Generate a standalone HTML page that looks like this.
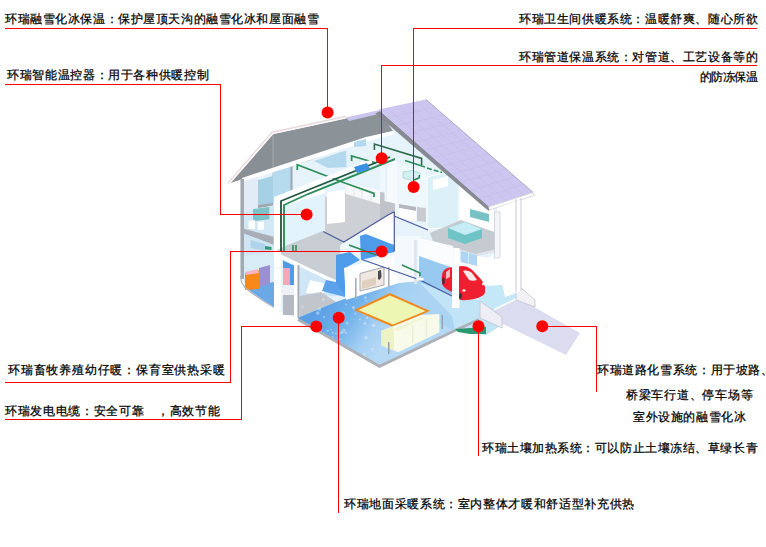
<!DOCTYPE html>
<html><head><meta charset="utf-8"><style>
html,body{margin:0;padding:0;background:#fff;}
body{width:766px;height:547px;position:relative;overflow:hidden;font-family:"Liberation Sans",sans-serif;}
.t{position:absolute;font-size:12px;line-height:13px;letter-spacing:0.6px;-webkit-text-stroke:0.25px #000;color:#000;white-space:nowrap;}
svg{position:absolute;left:0;top:0;z-index:1;}
</style></head><body>
<svg width="766" height="547" viewBox="0 0 766 547">
<g id="house"><defs>
<linearGradient id="floorg" x1="315" y1="312" x2="378" y2="356" gradientUnits="userSpaceOnUse">
<stop offset="0" stop-color="#5a9fe6"/><stop offset="0.4" stop-color="#72b2eb"/><stop offset="0.75" stop-color="#a6d0f3"/><stop offset="1" stop-color="#b6daf6"/>
</linearGradient>
</defs>
<!-- ===== base silhouette ===== -->
<polygon fill="#e6f3fa" points="230,182 273,134 426,100 533,193 521,200 521,291 535,300 535,307 503,324 486,335 455,331 382,366 298,319 281,312 274,307 263,300 250,290 244,282 240,270 240,180"/>
<!-- ===== gray roof underside (left gable + attic) ===== -->
<polygon fill="#8c9398" points="230,183 273,134 379,111 393,131 366,138 308,161 274,169 242,179"/>
<polygon fill="#899095" points="230,183 273,134 273,169 242,179"/>
<line x1="273" y1="134" x2="273" y2="200" stroke="#aab0b6" stroke-width="0.8"/>
<!-- lavender ridge strip -->
<polygon fill="#cbc4ee" points="346,117.5 380,110 381,113.5 349,121"/>
<!-- roof edge highlight -->
<polyline fill="none" stroke="#e8d6d8" stroke-width="2.6" points="228.5,183.5 272.5,132.6 346,117"/>
<polyline fill="none" stroke="#fbf8f8" stroke-width="1.6" points="229.3,183.6 272.8,133.4 346,117.8"/>
<!-- wall top white band -->
<polygon fill="#ffffff" points="242,178 366,137 393,131 395,134 368,141 243,182"/>
<!-- ===== left exterior wall ===== -->
<rect x="240.5" y="179" width="3.5" height="100" fill="#a4a9b0"/>
<polygon fill="#e2ecf6" points="244,181 258,177 258,270 244,272"/>
<polygon fill="#a6d0e4" points="258,180 273,176 273,204 258,206"/>
<polygon fill="#b6dbef" points="273,172 291,167 291,201 273,204"/>
<polygon fill="#a0a6ad" points="290.5,167 292.5,166 292.5,201 290.5,202"/>
<polygon fill="#a0a6ad" points="258,205 273,203 273,206 258,208"/>
<!-- teal headboard left room -->
<!-- left room 2nd floor slab -->
<polygon fill="#d2e8f4" points="244,212 274,205 274,237 244,229"/>
<polygon fill="#7cc2c6" points="253,209 269.3,207 269.3,219.3 253,221"/>
<polygon fill="#a9aeb6" points="243,228.6 273.7,236.8 273.7,245 243,233.5"/>
<polygon fill="#cfe5f3" points="244,233.5 273.7,245 273.7,265 244,265"/>
<polygon fill="#b0d4ec" points="250.7,240 265,244 265,251 250.7,248"/>
<polygon fill="#2f9a78" points="265,246 271.5,247 271.5,250 265,249.5"/>
<polygon fill="#ffffff" points="248.5,221 255,220 255,229 248.5,229"/>
<polygon fill="#ffffff" points="257.8,222 263.8,221.5 263.8,229.7 257.8,229.7"/>
<!-- ===== back room window / walls (study) ===== -->
<polygon fill="#b4d8ee" points="314,161 346,150.5 346.5,167 328,168"/>
<polygon fill="#b4d8ee" points="354,142 366,139 366,146 354,147"/>
<!-- kitchen counter & gray floor middle -->
<polygon fill="#cdd1d6" points="325,197 346,193 380,200 388,204 392,213 343.8,242 323.2,231.5 325,228"/>
<polygon fill="#f7f8f9" points="345,183 372,188 383,192 383,205 346,194"/>
<g stroke="#d6d9dd" stroke-width="0.6"><line x1="354" y1="186" x2="354" y2="197"/><line x1="362" y1="188" x2="362" y2="200"/><line x1="371" y1="190" x2="371" y2="202"/></g>
<polygon fill="#ffffff" points="327,192 345,190 345,222 327,224"/>
<!-- bathroom area -->
<polygon fill="#eef8fc" points="380,160 426,170 426,222 395,217 394,193 380,191"/>
<polygon fill="#c0c4ca" points="380,192 395,194 395,217 380,219"/>
<polygon fill="#b4b8be" points="399,204 416,207 416,211 399,208"/>
<polygon fill="#ffffff" points="399,208 416,211 416,221 399,218"/>
<polygon fill="#c8ccd2" points="417,207 426,208 426,222 417,221"/>
<polygon fill="#f6fafd" points="384.5,158 397,161 397,204 384.5,201"/>
<line x1="386" y1="160" x2="386" y2="200" stroke="#d8e4ec" stroke-width="0.8"/>
<path fill="#d4eef2" stroke="#a8d4d8" stroke-width="0.8" d="M403,172 L412,170.5 L420,173 L420,178 L412,180.5 L403,178Z"/>
<path fill="none" stroke="#2e7a52" stroke-width="1.4" d="M414,180 L419,178 L419.5,175"/>
<!-- bathroom door panel -->
<polygon fill="#dcf0f8" stroke="#ffffff" stroke-width="1" points="427,177 456,170 459,172 459,227 427,229"/>
<polygon fill="#ffffff" points="433,180 448,176 448,186 433,190"/>
<!-- ===== right bedroom ===== -->
<polygon fill="#ffffff" points="459,180 489,208 494,209 494,235 460,222"/>
<polygon fill="#c6cbd2" points="430,233 461,220 497,233 497,251 477,256 433,241"/>
<polyline fill="none" stroke="#e2e6ec" stroke-width="1.8" points="433,242 476,255 497,250"/>
<polygon fill="#6fc4c6" points="448,228 465,222 482,229 482,238 465,244 448,238"/>
<polygon fill="#c6ecf5" points="448,228 465,222 482,229 465,235"/>
<polygon fill="#78c2c6" points="470,209 489,214 489,222 470,217"/>
<!-- ===== front panel (middle room, D2) ===== -->
<polygon fill="#ffffff" points="274,198 308,184 325,188 325,197 283,212 283,252 274,252"/>
<polygon fill="#e2f3fb" points="283,206 325,193 325,240 285,247 283,252"/>
<!-- ===== 2nd floor big gray slab ===== -->
<polygon fill="#c8cdd3" points="285,246 323,231 344,242 340,246 341,255 336,280 274,252"/>
<polygon fill="#eef6fb" points="343.8,242 388,215 394,213 394,245 365.5,233.8 359.7,235 350,246 341,255 340,246"/>
<polygon fill="#ffffff" points="274,251 336,281 336,284 274,255"/>
<!-- blue panel (stair wall) -->
<polygon fill="#4d9be9" points="360,236 366,234 394,245 394,252 361,260"/>
<polygon fill="#ffffff" points="359.7,232.3 388,215 394,213 394,244.4 365.5,233.8 359.7,235"/>
<!-- ===== first floor ===== -->
<!-- left room -->
<polygon fill="#d8ecf8" points="244,256 274,252 274,307 263,300 250,290 244,282"/>
<polygon fill="#6aa8e6" points="246,287 274,282 274,307 263,300 250,291"/>
<polygon fill="#f8881a" points="245,273 259,270 259,289 245,290"/>
<polygon fill="#f7b4c4" points="245,272 258,269 259,273 246,275"/>
<polygon fill="#9a90d2" points="259,268 270,265 270,284 259,287"/>
<polyline fill="none" stroke="#b0b6be" stroke-width="1.2" points="240.5,276 241.5,282 245,287.5 251,292.5 262,300 270,305 276,308.5"/>
<!-- white columns -->
<rect x="274" y="252" width="7" height="58" fill="#ffffff"/>
<polygon fill="#4d9be9" points="283,260.5 294,265.5 294,285 283,285"/>
<rect x="283" y="268" width="7" height="17" fill="#f6a8b6"/>
<rect x="281" y="285" width="13" height="11" fill="#eef2f6"/>
<rect x="283" y="295" width="11" height="20" fill="#b4b9c3"/>
<rect x="294" y="265" width="3.5" height="55" fill="#ffffff"/>
<rect x="297.5" y="265" width="2" height="53" fill="#a8adb5"/>
<!-- sky window -->
<polygon fill="#cfe6f8" points="300,267 336,284 338,296 300,296"/>
<polygon fill="#ffffff" points="310,280 330,285 322,295 306,293"/>
<!-- gray floor left -->
<polygon fill="#c1c5cc" points="299.5,296 321,292 336,302 299.5,317"/>
<!-- blue floor -->
<polygon fill="url(#floorg)" points="299.5,317 336,302 350,297 400,282 430,280 452,290 455,331 382,366 298,319"/>
<polygon fill="#a4d0f2" opacity="0.6" points="400,282 419,282 452,296 455,331 430,318 402,300"/>
<g fill="#ffffff" opacity="0.35"><circle cx="317.8" cy="327.7" r="1.2"/><circle cx="345.3" cy="332.5" r="0.9"/><circle cx="319.5" cy="309.1" r="1.8"/><circle cx="335.7" cy="333.3" r="1.0"/><circle cx="339.2" cy="339.5" r="1.5"/><circle cx="344.3" cy="313.1" r="0.8"/><circle cx="364.9" cy="323.4" r="1.5"/><circle cx="365.9" cy="337.8" r="1.7"/><circle cx="365.9" cy="300.8" r="0.9"/><circle cx="332.7" cy="332.6" r="1.1"/><circle cx="338.0" cy="318.2" r="1.2"/><circle cx="343.9" cy="330.1" r="1.7"/><circle cx="364.2" cy="354.5" r="1.5"/><circle cx="372.3" cy="349.3" r="1.4"/><circle cx="353.5" cy="307.7" r="1.6"/><circle cx="343.0" cy="312.1" r="0.9"/><circle cx="364.0" cy="354.4" r="0.9"/><circle cx="360.0" cy="319.6" r="1.0"/><circle cx="365.5" cy="297.7" r="1.4"/><circle cx="373.5" cy="325.3" r="1.8"/><circle cx="323.2" cy="299.6" r="1.4"/><circle cx="302.4" cy="306.8" r="1.2"/><circle cx="345.8" cy="304.4" r="0.8"/><circle cx="365.1" cy="313.8" r="1.8"/><circle cx="367.2" cy="317.7" r="1.3"/><circle cx="339.0" cy="333.6" r="1.4"/><circle cx="341.9" cy="332.2" r="1.7"/><circle cx="338.0" cy="320.9" r="1.5"/><circle cx="317.8" cy="313.1" r="1.8"/><circle cx="339.1" cy="327.9" r="0.8"/><circle cx="331.1" cy="329.8" r="0.8"/><circle cx="346.2" cy="332.9" r="0.9"/><circle cx="347.1" cy="323.0" r="1.5"/><circle cx="355.4" cy="296.3" r="0.9"/><circle cx="318.8" cy="322.4" r="1.4"/><circle cx="324.0" cy="316.8" r="1.1"/><circle cx="327.7" cy="330.7" r="1.1"/><circle cx="355.1" cy="313.6" r="1.0"/><circle cx="360.3" cy="309.3" r="1.0"/><circle cx="332.6" cy="336.9" r="0.9"/></g>
<!-- stair blue tilted panel -->
<polygon fill="#5ba2ea" points="326,280 336,282 345,297 322,291"/>
<polygon fill="#4d9be9" points="336,255 350,252 360,260 345,268 345,297 336,283"/>
<!-- TV wall -->
<polygon fill="#ffffff" points="344,268 400,253 402,256 402,282 346,300"/>
<polygon fill="#f0e8e0" stroke="#a4a8b0" stroke-width="1" points="360,273.5 384,267 384,285 360,291"/>
<polygon fill="#d8c4b0" opacity="0.7" points="362,281 376,277 376,285 362,289"/>
<polygon fill="#4a4a54" points="378,271 381,270 381.5,277 379.5,280 378,279"/>
<polygon fill="#ffffff" points="385,266 394,262 394,280 385,283"/>
<rect x="355" y="278" width="1.6" height="21" fill="#a8acb4"/>
<rect x="388" y="267" width="1.6" height="20" fill="#a8acb4"/>
<!-- garage back wall -->
<polygon fill="#f3f9fd" points="394,236 420,236 420,281 400,283 394,270"/>
<rect x="414" y="240" width="3" height="44" fill="#dfe6ee"/>
<polygon fill="#fafcfe" points="419,238 453,246 453,268 419,256"/>
<polygon fill="#98c9f1" points="419,256 453,268 453,296 419,282"/>
<polygon fill="#c2e4f7" points="419,282 453,296 486,301 512,298 520,302 503,324 486,335 455,331 452,316"/>
<rect x="453.5" y="248" width="6" height="60" fill="#ffffff"/>
<polygon fill="#ffffff" points="459,252 488,258 500,250 521,250 521,292 505,297 486,300 459,290"/>
<polygon fill="#aed6f4" points="460.5,251 477,255 477,266 460.5,262"/>
<line x1="468.5" y1="253" x2="468.5" y2="264" stroke="#d6ecf8" stroke-width="1"/>
<!-- rug -->
<polygon fill="#f08a20" points="354,310 390,293 430,311 393,327"/>
<polygon fill="#eef6b4" points="358.5,310 390,295.6 425.5,311 393,324.6"/>
<!-- sofa -->
<polygon fill="#f8faea" points="381.5,330.7 421.3,315 439.4,314 439.4,332.2 398.1,352.3 381.5,345.2"/>
<polygon fill="#edf3c6" points="381.5,330.7 392,327 394,329 394,350.5 381.5,345.2"/>
<polygon fill="#f0f4d2" points="394,329 421.3,317 424,318 398,331"/>
<g stroke="#e2e6c8" stroke-width="0.8"><line x1="412.7" y1="325" x2="412.7" y2="343"/><line x1="426.3" y1="319" x2="426.3" y2="337"/></g>
<rect x="388" y="342" width="1.5" height="12" fill="#9aa0aa"/>
<rect x="441.5" y="315" width="1.5" height="14" fill="#9aa0aa"/>
<!-- floor slab edge -->
<polyline fill="none" stroke="#aeb0b8" stroke-width="2.8" points="298,319.5 379.5,366.3 455,330.5 479,319.5"/>
<!-- green soil -->
<polygon fill="#2a9870" points="455,329 486,327 486,334 470,334 458,332"/>
<polygon fill="#c4e8f8" points="470,287 516,284 516,298.5 494,309.5 480,301"/>
<!-- car -->
<path fill="#ee1f2e" d="M442,275 C443,270 446,268 450,267.5 L462,266 C468,266 472,269 476,274 C480,278 484,282 485,287 L485,292 C485,295 481,297 476,298.5 C470,300 464,300.5 461,300 C458,299 455,296 452,292 C448,290 444,288 442.5,285 C441.5,282 441.5,278 442,275Z"/>
<path fill="#ffffff" opacity="0.9" d="M463,271 C466,270 470,271 472,273 L477,280 C474,281 471,281 469,280Z"/>
<path fill="#ffffff" opacity="0.7" d="M446,272 L450,269 L450,277 L446,279Z"/>
<ellipse cx="443.5" cy="281" rx="1.2" ry="3.5" fill="#333"/>
<ellipse cx="460.5" cy="296" rx="1.3" ry="3" fill="#333"/>
<ellipse cx="464" cy="290.5" rx="1.6" ry="1.2" fill="#f4f4f4"/>
<ellipse cx="483" cy="284" rx="1" ry="1.4" fill="#f4f4f4"/>
<rect x="452" y="266" width="7" height="42" fill="#ffffff"/>
<!-- ramp -->
<polygon fill="#dcdcf0" points="495,310 516,300 534,307 580,333 566,355 503,324"/>
<line x1="494" y1="309.8" x2="516.5" y2="298.8" stroke="#ffffff" stroke-width="1.6"/>
<polygon fill="#eeeef4" stroke="#c0c2cc" stroke-width="0.8" points="480,301 502,317 502,328 480,318"/>
<polygon fill="#f2f2f6" stroke="#c0c2cc" stroke-width="0.8" points="516,270 520,270 520,287 535,300 535,307 516,300"/>
<!-- ===== purple roof ===== -->
<polygon fill="#878a92" points="375.5,113.5 380,111 489,206.5 489,211 485,208"/>
<polygon fill="#ccc6f0" points="378.5,109.5 426,99.5 533,192.3 488.7,206.5"/>
<g stroke="#b4acdc" stroke-width="0.6" opacity="0.35"><line x1="386.3" y1="118.0" x2="434.9" y2="107.2"/><line x1="395.6" y1="126.1" x2="443.8" y2="115.0"/><line x1="404.9" y1="134.1" x2="452.8" y2="122.7"/><line x1="414.2" y1="142.2" x2="461.7" y2="130.4"/><line x1="423.5" y1="150.2" x2="470.6" y2="138.2"/><line x1="432.9" y1="158.2" x2="479.5" y2="145.9"/><line x1="442.2" y1="166.3" x2="488.4" y2="153.6"/><line x1="451.5" y1="174.3" x2="497.3" y2="161.4"/><line x1="460.8" y1="182.4" x2="506.2" y2="169.1"/><line x1="470.1" y1="190.4" x2="515.2" y2="176.8"/><line x1="479.4" y1="198.5" x2="524.1" y2="184.6"/><line x1="386.8" y1="107.9" x2="497.6" y2="203.7"/><line x1="396.6" y1="105.8" x2="506.4" y2="200.8"/><line x1="406.4" y1="103.7" x2="515.3" y2="198.0"/><line x1="416.2" y1="101.6" x2="524.1" y2="195.1"/></g>
<line x1="426" y1="99.5" x2="533" y2="192.3" stroke="#b0aac8" stroke-width="1"/>
<polygon fill="#ffffff" stroke="#c4c4cc" stroke-width="0.7" points="488.7,206.8 533,192.5 534,195.5 489.5,210"/>
<!-- right wall -->
<polygon fill="#ffffff" points="497,208 533,195 521,199 521,291 505,297 497,260"/>
<rect x="494.5" y="212" width="5.5" height="46" fill="#f4f5f8" stroke="#c2c6ce" stroke-width="0.6"/>
<line x1="516" y1="199" x2="516" y2="292" stroke="#c6cad2" stroke-width="1"/>
<line x1="521" y1="198" x2="521" y2="291" stroke="#c6cad2" stroke-width="1"/>
<!-- ===== pipes ===== -->
<g fill="none" stroke-linecap="butt">
<polyline stroke="#2f8f5a" stroke-width="1.8" points="297.3,170 297.3,164.7 344.8,183 374,193.5 374,197"/>
<polyline stroke="#2f8f5a" stroke-width="1.8" points="351.6,161 351.6,156 376,163"/>
<polyline stroke="#2e6a4a" stroke-width="1.6" points="374.4,150 374.4,144 421.6,158.4 421.6,165"/>
<polyline stroke="#2f8f5a" stroke-width="1.6" points="405,160.6 425,167"/>
<polyline stroke="#2f8f5a" stroke-width="1.5" stroke-dasharray="5,2" points="427,168 442,172.5"/>
<polygon fill="#ffffff" points="274,197 366,161 372,160 372,163 277,200.5"/>
<polyline stroke="#22563c" stroke-width="1.8" points="281,252 281,201 308,190 390,157"/>
<polyline stroke="#2f8f5a" stroke-width="1.9" points="284,252 284,205 308,194 395,159"/>
<polyline stroke="#2f8a58" stroke-width="1.6" points="349,245 376,255"/>
<polyline stroke="#2f8f5a" stroke-width="1.6" points="402,265 420,273 420,276"/>
<path stroke="#2f8f5a" stroke-width="1.6" d="M293,245 V251 M296,245 V251"/>
<polyline stroke="#4a5a9e" stroke-width="1.2" points="323.2,231.5 343.8,242 388,215 394.3,211.7"/>
<polyline stroke="#4a5a9e" stroke-width="1.2" points="394.3,211.7 394.3,251.5"/>
<polyline stroke="#4a5a9e" stroke-width="1.2" points="394,216 428,230"/>
<polyline stroke="#4a5a9e" stroke-width="1.3" points="362,259.5 420,280 452,296"/>
</g>
<ellipse cx="420" cy="279" rx="4" ry="1.6" fill="#ffffff" stroke="#d0d6de" stroke-width="0.5"/>
<polygon fill="#3c90e4" points="354,167 367,163 370,169 357,173"/>
</g><!--endhouse-->
<g id="lines" fill="#f00">
<rect x="5" y="28" width="323" height="1"/><rect x="327" y="28" width="1" height="84"/>
<rect x="5" y="84" width="216" height="1"/><rect x="220" y="84" width="1" height="131"/><rect x="220" y="214" width="87" height="1"/>
<rect x="413" y="28" width="344" height="1"/><rect x="413" y="28" width="1" height="159"/>
<rect x="381" y="65" width="376" height="1"/><rect x="381" y="65" width="1" height="93"/>
<rect x="5" y="382" width="226" height="1"/><rect x="230" y="251" width="1" height="132"/><rect x="230" y="251" width="152" height="1"/>
<rect x="5" y="419" width="237" height="1"/><rect x="241" y="326" width="1" height="94"/><rect x="241" y="326" width="76" height="1"/>
<rect x="338" y="318" width="1" height="195"/>
<rect x="478" y="326" width="1" height="130"/>
<rect x="542" y="326" width="55" height="1"/><rect x="596" y="326" width="1" height="66"/>
<circle cx="327.6" cy="112.4" r="6"/>
<circle cx="306.6" cy="214.6" r="6"/>
<circle cx="413.6" cy="187" r="6"/>
<circle cx="381.7" cy="158.3" r="6"/>
<circle cx="381.7" cy="251.5" r="6"/>
<circle cx="316.3" cy="326.4" r="6"/>
<circle cx="338.7" cy="317.7" r="6"/>
<circle cx="478.5" cy="326.2" r="6"/>
<circle cx="542.3" cy="326.2" r="6"/>
</g>
</svg>
<div class="t" id="l1" style="letter-spacing:0.57px;left:5px;top:13px;">环瑞融雪化冰保温：保护屋顶天沟的融雪化冰和屋面融雪</div>
<div class="t" id="l2" style="letter-spacing:0.65px;left:7px;top:69px;">环瑞智能温控器：用于各种供暖控制</div>
<div class="t" id="l3" style="letter-spacing:0.60px;left:519px;top:13px;">环瑞卫生间供暖系统：温暖舒爽、随心所欲</div>
<div class="t" id="l4" style="letter-spacing:0.60px;left:519px;top:51px;">环瑞管道保温系统：对管道、工艺设备等的</div>
<div class="t" id="l4b" style="letter-spacing:-0.60px;left:700px;top:71px;">的防冻保温</div>
<div class="t" id="l5" style="letter-spacing:0.80px;left:8px;top:364px;">环瑞畜牧养殖幼仔暖：保育室供热采暖</div>
<div class="t" id="l6" style="letter-spacing:0.66px;left:5px;top:405px;">环瑞发电电缆：安全可靠　，高效节能</div>
<div class="t" id="l7" style="letter-spacing:0.65px;left:344px;top:498px;">环瑞地面采暖系统：室内整体才暖和舒适型补充供热</div>
<div class="t" id="l8" style="letter-spacing:0.55px;left:482px;top:442px;">环瑞土壤加热系统：可以防止土壤冻结、草绿长青</div>
<div class="t" id="l9a" style="letter-spacing:0.62px;left:597px;top:364px;">环瑞道路化雪系统：用于坡路、</div>
<div class="t" id="l9b" style="letter-spacing:0.74px;left:626px;top:389px;">桥梁车行道、停车场等</div>
<div class="t" id="l9c" style="letter-spacing:0.60px;left:633px;top:411px;">室外设施的融雪化冰</div>
</body></html>
